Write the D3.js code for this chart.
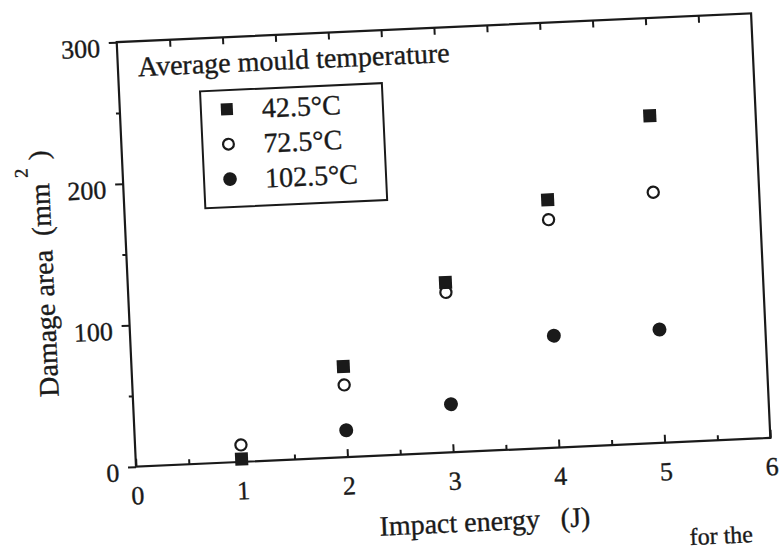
<!DOCTYPE html>
<meta charset="utf-8">
<style>
    body { margin: 0; background: #fff; }
    svg { font-family: "Liberation Serif", "Times New Roman", serif; fill: #1a1a1a; }
    svg text { stroke: #1a1a1a; stroke-width: 0.35; }
    .axis line { stroke: #1a1a1a; stroke-width: 2; }
    .axis text { font-size: 26px; fill: #1a1a1a; font-family: "Liberation Serif", serif; }
    .axis path { display: none; }
</style>
<svg width="782" height="549"></svg>
<script src="https://d3js.org/d3.v7.min.js"></script>
<script>

    var energy = [1, 2, 3, 4, 5],
        area425 = [2, 64, 120, 175, 231],
        area725 = [12, 51, 113, 161, 177],
        energy1025 = [2, 3, 4, 5],
        area1025 = [19, 34, 79, 80];

    var xTicks = [0, 1, 2, 3, 4, 5, 6],
        xMinor = [0.5, 1.5, 2.5, 3.5, 4.5, 5.5],
        yTicks = [0, 100, 200, 300],
        yMinor = [50, 150, 250],
        legendLabels = ["42.5°C", "72.5°C", "102.5°C"];

    var svg = d3.select("svg"),
        width = 635,
        height = 425;

    var x = d3.scaleLinear().domain([0, 6]).range([0, width]),
        y = d3.scaleLinear().domain([0, 300]).range([height, 0]);

    // the scanned figure is a little tilted, so tilt the whole plot
    var g = svg.append("g")
        .attr("transform", "translate(136,466.7) rotate(-2.6) translate(0," + (-height) + ")");

    g.append("rect")
        .attr("width", width)
        .attr("height", height)
        .attr("fill", "none")
        .attr("stroke", "#1a1a1a")
        .attr("stroke-width", 2.2);

    // bottom axis, ticks point inward
    g.append("g")
        .attr("class", "axis")
        .attr("transform", "translate(0," + height + ")")
        .call(d3.axisBottom(x).tickValues(xTicks).tickSize(-8).tickPadding(19).tickFormat(d3.format("d")));

    g.append("g")
        .attr("class", "axis")
        .attr("transform", "translate(0," + height + ")")
        .call(d3.axisBottom(x).tickValues(xMinor).tickSize(-5).tickFormat(""));

    // top axis, no labels
    g.append("g")
        .attr("class", "axis")
        .call(d3.axisTop(x).tickValues(xMinor.concat(xTicks.slice(1, 6))).tickSize(-7).tickFormat(""));

    // left axis, ticks point outward
    g.append("g")
        .attr("class", "axis")
        .call(d3.axisLeft(y).tickValues(yTicks).tickSize(8).tickPadding(9).tickFormat(d3.format("d")))
        .selectAll("text").attr("dy", "0.52em");

    g.append("g")
        .attr("class", "axis")
        .call(d3.axisLeft(y).tickValues(yMinor).tickSize(4).tickFormat(""));

    // data
    g.selectAll(".sq")
        .data(d3.zip(energy, area425))
        .enter().append("rect")
        .attr("class", "sq")
        .attr("x", function(d) { return x(d[0]) - 6.5; })
        .attr("y", function(d) { return y(d[1]) - 6.5; })
        .attr("width", 13)
        .attr("height", 13)
        .attr("fill", "#1a1a1a");

    g.selectAll(".open")
        .data(d3.zip(energy, area725))
        .enter().append("circle")
        .attr("class", "open")
        .attr("cx", function(d) { return x(d[0]); })
        .attr("cy", function(d) { return y(d[1]); })
        .attr("r", 5.6)
        .attr("fill", "none")
        .attr("stroke", "#1a1a1a")
        .attr("stroke-width", 2.2);

    g.selectAll(".dot")
        .data(d3.zip(energy1025, area1025))
        .enter().append("circle")
        .attr("class", "dot")
        .attr("cx", function(d) { return x(d[0]); })
        .attr("cy", function(d) { return y(d[1]); })
        .attr("r", 7)
        .attr("fill", "#1a1a1a");

    // legend
    g.append("text")
        .attr("x", 20)
        .attr("y", 35)
        .attr("font-size", 28)
        .text("Average mould temperature");

    g.append("rect")
        .attr("x", 81)
        .attr("y", 53)
        .attr("width", 182)
        .attr("height", 117)
        .attr("fill", "none")
        .attr("stroke", "#1a1a1a")
        .attr("stroke-width", 2);

    var leg = g.selectAll(".leg")
        .data(legendLabels)
        .enter().append("g")
        .attr("class", "leg")
        .attr("transform", function(d, i) { return "translate(107," + (72 + i * 35) + ")"; });

    leg.append("text")
        .attr("x", 35)
        .attr("y", 10)
        .attr("font-size", 28)
        .text(function(d) { return d; });

    leg.filter(function(d, i) { return i === 0; }).append("rect")
        .attr("x", -6).attr("y", -6).attr("width", 12).attr("height", 12)
        .attr("fill", "#1a1a1a");
    leg.filter(function(d, i) { return i === 1; }).append("circle")
        .attr("r", 5.4).attr("fill", "none").attr("stroke", "#1a1a1a").attr("stroke-width", 2.2);
    leg.filter(function(d, i) { return i === 2; }).append("circle")
        .attr("r", 6.8).attr("fill", "#1a1a1a");

    // axis titles
    g.append("text")
        .attr("x", 346)
        .attr("y", height + 80)
        .attr("text-anchor", "middle")
        .attr("font-size", 28)
        .attr("xml:space", "preserve")
        .text("Impact energy   (J)");

    var yt = g.append("text")
        .attr("transform", "translate(-74," + (height - 197) + ") rotate(-90)")
        .attr("text-anchor", "middle")
        .attr("font-size", 28)
        .attr("xml:space", "preserve");
    yt.append("tspan").text("Damage area  (mm");
    yt.append("tspan").attr("dx", 6).attr("dy", -21).attr("font-size", 19).text("2");
    yt.append("tspan").attr("dx", 8).attr("dy", 21).text(")");

    // caption fragment at the bottom of the scan
    svg.append("text")
        .attr("transform", "translate(690,545) rotate(-2.6)")
        .attr("font-size", 24)
        .text("for the");
</script>
